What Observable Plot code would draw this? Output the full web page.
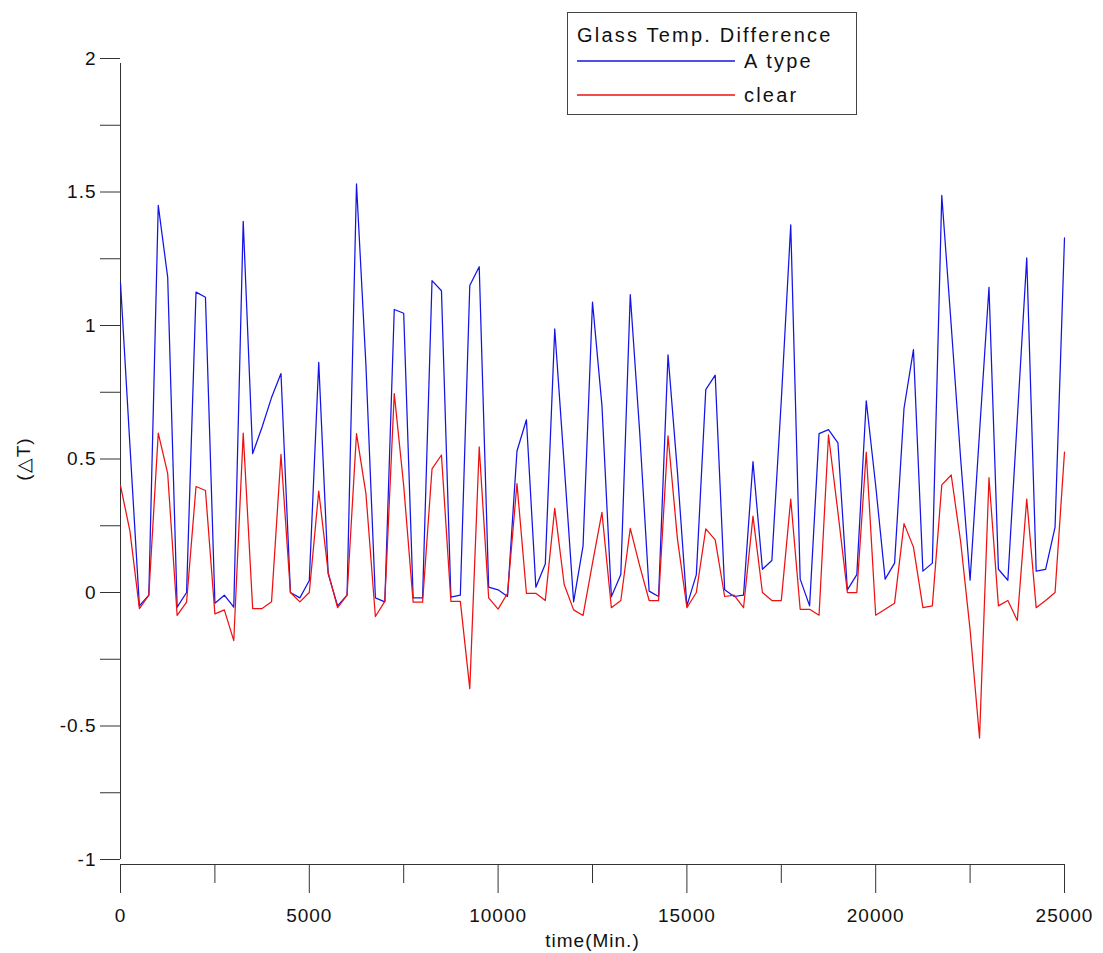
<!DOCTYPE html>
<html><head><meta charset="utf-8">
<script src="https://cdn.jsdelivr.net/npm/d3@7"></script>
<script src="https://cdn.jsdelivr.net/npm/@observablehq/plot@0.6"></script>
<style>
body{margin:0;background:#fff;font-family:"Liberation Sans",Arial,sans-serif;}
#wrap{position:relative;width:1103px;height:953px;}
#wrap svg text{letter-spacing:1px;}
#legend{position:absolute;left:567px;top:12px;}
#wrap svg#legend text{letter-spacing:2.2px;}
</style>
</head><body>
<div id="wrap"><svg id="legend" width="291" height="104"></svg></div>
<script>
const times = [0,250,500,750,1000,1250,1500,1750,2000,2250,
2500,2750,3000,3250,3500,3750,4000,4250,4500,4750,
5000,5250,5500,5750,6000,6250,6500,6750,7000,7250,
7500,7750,8000,8250,8500,8750,9000,9250,9500,9750,
10000,10250,10500,10750,11000,11250,11500,11750,12000,12250,
12500,12750,13000,13250,13500,13750,14000,14250,14500,14750,
15000,15250,15500,15750,16000,16250,16500,16750,17000,17250,
17500,17750,18000,18250,18500,18750,19000,19250,19500,19750,
20000,20250,20500,20750,21000,21250,21500,21750,22000,22250,
22500,22750,23000,23250,23500,23750,24000,24250,24500,24750,
25000];
const aType = [1.16,0.55,-0.05,-0.01,1.45,1.18,-0.055,0.0,1.125,1.106,
-0.04,-0.01,-0.055,1.39,0.52,0.62,0.73,0.82,0.0,-0.02,
0.045,0.862,0.07,-0.05,-0.01,1.53,0.85,-0.02,-0.035,1.06,
1.046,-0.02,-0.02,1.168,1.13,-0.017,-0.01,1.15,1.22,0.02,
0.01,-0.015,0.53,0.647,0.02,0.107,0.987,0.48,-0.035,0.175,
1.088,0.7,-0.016,0.067,1.116,0.6,0.005,-0.015,0.89,0.45,
-0.05,0.067,0.76,0.814,0.01,-0.015,-0.01,0.49,0.087,0.12,
0.72,1.377,0.05,-0.05,0.595,0.61,0.56,0.01,0.067,0.718,
0.4,0.05,0.11,0.69,0.91,0.08,0.11,1.487,1.0,0.5,
0.046,0.6,1.143,0.087,0.046,0.65,1.253,0.08,0.087,0.245,
1.328];
const clear = [0.40,0.23,-0.06,-0.01,0.597,0.445,-0.086,-0.036,0.397,0.382,
-0.08,-0.065,-0.18,0.597,-0.06,-0.06,-0.035,0.517,0.0,-0.035,
0.0,0.38,0.075,-0.057,-0.01,0.595,0.37,-0.09,-0.033,0.745,
0.4,-0.036,-0.036,0.463,0.515,-0.033,-0.033,-0.36,0.545,-0.02,
-0.062,-0.003,0.408,-0.003,-0.003,-0.03,0.315,0.03,-0.065,-0.086,
0.11,0.3,-0.057,-0.03,0.24,0.1,-0.03,-0.03,0.587,0.2,
-0.057,0.0,0.238,0.197,-0.015,-0.01,-0.057,0.286,0.0,-0.03,
-0.03,0.35,-0.063,-0.063,-0.085,0.59,0.3,0.0,0.0,0.526,
-0.085,-0.063,-0.04,0.258,0.17,-0.057,-0.05,0.403,0.44,0.19,
-0.14,-0.545,0.43,-0.05,-0.03,-0.105,0.35,-0.057,-0.03,0.0,
0.526];
const seriesNames = ["A type","clear"];
const seriesColors = ["#1414e6","#ee1111"];
const legendTitle = "Glass Temp. Difference";
const xMajorTicks = [0,5000,10000,15000,20000,25000];
const xMinorTicks = [2500,7500,12500,17500,22500];
const yMajorTicks = [-1,-0.5,0,0.5,1,1.5,2];
const yMinorTicks = [-0.75,-0.25,0.25,0.75,1.25,1.75];
const xLabel = "time(Min.)";
const yLabel = "(△T)";

const rows = times.map((t,i)=>({time:t, aType:aType[i], clear:clear[i]}));
const axisColor = "#333";

const chart = Plot.plot({
  width:1103, height:953,
  marginLeft:120, marginRight:39, marginTop:58, marginBottom:94,
  style:{fontFamily:"'Liberation Sans', Arial, sans-serif", fontSize:"19px", color:"#111", background:"#fff"},
  x:{domain:[0,25000]},
  y:{domain:[-1,2]},
  marks:[
    Plot.axisY(yMinorTicks,{tickSize:20, tickFormat:()=>"", label:null, stroke:axisColor}),
    Plot.axisY(yMajorTicks,{tickSize:20, tickPadding:4, tickFormat:d=>String(d), stroke:axisColor,
      label:yLabel, labelAnchor:"center", labelArrow:"none", labelOffset:104}),
    Plot.axisX(xMinorTicks,{tickSize:19, dy:5, tickFormat:()=>"", label:null, stroke:axisColor}),
    Plot.axisX(xMajorTicks,{tickSize:29, dy:5, tickPadding:15, tickFormat:d=>String(d), stroke:axisColor,
      label:xLabel, labelAnchor:"center", labelArrow:"none", labelOffset:87}),
    Plot.ruleX([0],{y1:-1, y2:2, insetBottom:-5, stroke:axisColor}),
    Plot.ruleY([-1],{dy:5, stroke:axisColor}),
    Plot.line(rows,{x:"time", y:"aType", stroke:seriesColors[0], strokeWidth:1.25}),
    Plot.line(rows,{x:"time", y:"clear", stroke:seriesColors[1], strokeWidth:1.25})
  ]
});
document.getElementById("wrap").prepend(chart);

// legend box (overlay, drawn with d3)
const lg = d3.select("#legend");
lg.append("rect").attr("x",0.5).attr("y",0.5).attr("width",289).attr("height",102)
  .attr("fill","#fff").attr("stroke","#444");
lg.append("text").attr("x",10).attr("y",30).attr("font-size",20).attr("fill","#111")
  .attr("font-family","'Liberation Sans', Arial, sans-serif").text(legendTitle);
seriesNames.forEach((name,i)=>{
  const yy = [49,83][i];
  lg.append("line").attr("x1",10).attr("x2",168).attr("y1",yy).attr("y2",yy)
    .attr("stroke",seriesColors[i]).attr("stroke-width",1.3);
  lg.append("text").attr("x",177).attr("y",yy+7).attr("font-size",20).attr("fill","#111")
    .attr("font-family","'Liberation Sans', Arial, sans-serif").text(name);
});
</script>
</body></html>
